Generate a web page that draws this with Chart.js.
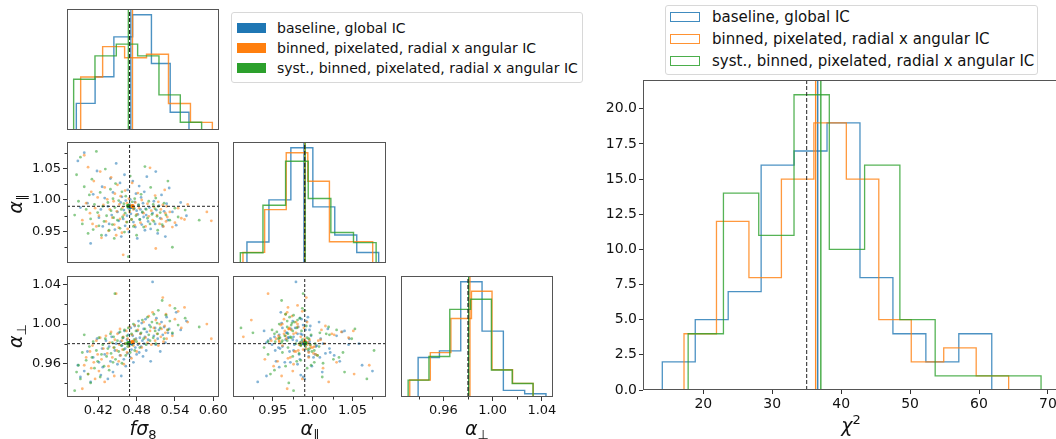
<!DOCTYPE html>
<html>
<head>
<meta charset="utf-8">
<script src="https://cdn.jsdelivr.net/npm/chart.js@4.4.0/dist/chart.umd.min.js"></script>
<style>
  body { margin: 0; background: #fff; overflow: hidden; font-family: "DejaVu Sans", sans-serif; }
  #fig { position: relative; width: 1056px; height: 439px; overflow: hidden; }
  #fig canvas { position: absolute; }
  .lab { position: absolute; font-size: 19px; color: #111; white-space: nowrap; transform: translate(-50%, -50%); }
  .lab i { font-style: italic; }
  .lab sub { font-size: 13px; vertical-align: -4px; }
  .rot { transform: translate(-50%, -50%) rotate(-90deg); }
  .legend { position: absolute; background: #fff; border: 1px solid #d8d8d8; border-radius: 3px; }
  .row { position: absolute; white-space: nowrap; color: #111; }
  .sw { position: absolute; box-sizing: border-box; }
</style>
</head>
<body>
<div id="fig"></div>
<script>
// series
const names = ['baseline, global IC', 'binned, pixelated, radial x angular IC', 'syst., binned, pixelated, radial x angular IC'];
const colors = ['#1f77b4', '#ff7f0e', '#2ca02c'];

// fiducial (dashed) and mean (solid) values
const truthFs8 = 0.469, truthApar = 0.99, truthAperp = 0.98, truthChi2 = 35.0;
const meanFs8 = [0.471, 0.4736, 0.467];
const meanApar = [0.989, 0.990, 0.9906];
const meanAperp = [0.9805, 0.9816, 0.9805];
const meanChi2 = [36.6, 36.3, 37.05];

// per-realisation best fits
const fs8Blue = [.388,.392,.398,.403,.408,.412,.418,.421,.424,.426,.427,.430,.432,.435,.437,.439,.441,.443,.446,.448,.450,.452,.454,.455,.456,.457,.459,.460,.461,.462,.463,.465,.466,.467,.468,.469,.470,.471,.472,.474,.475,.476,.477,.478,.479,.480,.481,.482,.483,.484,.485,.486,.487,.488,.489,.490,.491,.492,.493,.494,.495,.496,.498,.500,.502,.505,.507,.509,.510,.511,.513,.515,.517,.519,.521,.523,.525,.527,.529,.531,.536,.542,.549,.558];
const aperpBlue = [.958,.946,.952,.972,.941,.966,.985,.961,.948,.975,.956,.969,.983,.944,.977,.962,.987,.951,.973,.980,.959,.991,.968,.982,.947,.978,.986,.964,.993,.975,.957,.984,.970,.989,.979,.981,.966,.996,.974,.988,.961,.982,.998,.976,.985,.969,.993,.979,1.003,.971,.986,.990,.977,1.001,.983,.967,.995,.980,.987,1.005,.973,.992,.984,.999,.962,1.043,.988,.996,.979,1.006,.985,.994,.972,1.002,.989,.997,.981,1.007,.991,.995,.990,1.012,.994,1.003];
const aparBlue = [1.062,.988,1.075,.995,.931,1.009,1.046,.972,.985,1.021,.958,1.003,.944,.990,.962,1.034,.976,1.012,.953,1.058,.981,.967,1.027,.996,.942,1.005,.970,.984,1.040,.959,.999,.975,1.016,.987,.949,.993,1.001,.978,.990,1.030,.965,.986,.997,.957,1.010,.983,.939,.977,.992,1.022,.969,.985,1.004,.961,.980,.995,.973,1.013,.952,.986,.976,1.037,.966,.988,.954,.979,.998,.962,1.045,.984,.947,.991,.971,1.008,.958,.982,.942,.994,.968,1.019,.981,.960,.996,.975];

const fs8Orange = [.395,.398,.401,.404,.407,.409,.411,.413,.415,.417,.419,.421,.423,.425,.428,.430,.432,.434,.436,.438,.440,.442,.444,.445,.446,.448,.449,.450,.452,.453,.454,.455,.457,.458,.459,.460,.462,.464,.465,.466,.468,.469,.470,.472,.473,.475,.477,.478,.480,.482,.484,.486,.488,.491,.494,.497,.499,.501,.503,.505,.507,.509,.510,.512,.514,.516,.518,.519,.521,.522,.524,.525,.526,.527,.528,.532,.536,.540,.545,.550,.555,.560,.590,.597];
const aperpOrange = [.934,.958,.966,.949,.972,.955,.978,.961,.944,.983,.969,.952,.986,.964,.975,.941,.988,.970,.957,.981,.992,.966,.976,.947,.984,1.031,.973,.990,.962,.979,.995,.968,.983,.974,.987,.959,.980,.993,.971,.985,.977,.997,.982,.965,.989,.978,.999,.984,.972,.994,.980,.990,.976,1.002,.986,.981,1.008,.993,.979,1.012,.996,.983,1.004,.990,.978,1.000,.987,.995,1.027,.982,.998,.991,1.010,.985,.994,1.019,.988,1.005,1.013,.996,1.017,1.002,1.000,.985];
const aparOrange = [.968,1.071,.995,1.052,.979,1.013,.962,1.030,.987,.958,1.004,.975,1.045,.940,.992,1.020,.966,1.001,.951,.985,1.036,.972,.998,.961,1.010,.944,.982,1.024,.956,.993,.970,1.006,.948,.988,.913,.976,1.015,.965,.995,.954,1.002,.981,.991,.969,1.027,.985,.960,.996,.977,1.011,.987,.964,1.000,.979,.958,.994,.974,1.051,.983,.968,.989,1.007,.923,.976,.997,.962,.985,.970,.992,.958,1.016,.979,.966,.990,.973,.981,.957,.964,.987,.971,.969,.993,.981,.967];

const fs8Green = [.383,.386,.389,.392,.395,.398,.401,.404,.406,.408,.410,.412,.414,.417,.419,.421,.423,.425,.427,.429,.431,.433,.435,.437,.439,.440,.442,.443,.444,.445,.446,.447,.450,.452,.454,.456,.457,.458,.460,.461,.462,.463,.465,.466,.467,.469,.470,.472,.473,.475,.476,.477,.479,.480,.483,.485,.487,.489,.491,.493,.495,.497,.499,.501,.502,.504,.506,.507,.509,.510,.512,.513,.514,.517,.520,.523,.526,.529,.532,.536,.540,.545,.556,.578];
const aperpGreen = [.932,.951,.958,.944,.971,.989,.963,.949,.977,.940,.966,.982,.955,.973,.962,.986,.946,.969,.979,.957,.985,.967,.975,.953,.990,.970,.981,.961,.987,.976,1.031,.964,.983,.972,.992,.978,.960,.986,.974,.994,.980,.968,.988,.977,.996,.981,.971,.990,.979,1.000,.984,.973,.993,.982,.998,.976,.991,1.004,.985,.995,.979,1.007,.989,.983,.997,1.002,.986,1.010,.993,.980,1.001,.990,1.014,.996,1.024,.985,1.009,.994,1.003,.991,1.016,.999,1.006,.997];
const aparGreen = [.976,1.040,.998,1.068,.962,1.021,.985,.947,1.008,.970,1.033,.953,.993,1.077,.980,.959,1.012,.944,.990,.966,1.049,.975,.996,.952,1.017,.983,.961,1.002,.972,.939,.988,1.026,.968,.999,.955,.985,1.013,.973,.994,.949,.979,1.006,.965,.991,.910,.984,1.038,.969,.997,.958,.987,1.002,.975,.944,.992,.969,1.009,.981,.957,1.053,.985,.971,.998,.962,1.020,.977,.993,.966,.986,1.003,.974,.952,.990,.980,.961,.995,.976,1.030,.968,.925,.987,.973,.984,.968];

// 1D histograms (bin edges + counts, 84 realisations)
const nReal = 84;
const fs8Edges = [[0.3856,0.4150,0.4444,0.4738,0.5032,0.5326,0.5620],[0.3924,0.4268,0.4612,0.4955,0.5299,0.5643,0.5986],[0.3814,0.4148,0.4482,0.4816,0.5150,0.5484,0.5818]];
const fs8Counts = [[6,12,21,26,15,4],[14,22,19,20,7,2],[13,19,22,19,9,2]];
const aparEdges = [[0.9175,0.9451,0.9726,1.0002,1.0277,1.0553,1.0828],[0.9125,0.9397,0.9668,0.9939,1.0210,1.0482,1.0753],[0.9092,0.9376,0.9660,0.9944,1.0228,1.0512,1.0796]];
const aparCounts = [[6,18,33,16,8,3],[3,15,31,23,6,6],[3,17,30,19,9,6]];
const aperpEdges = [[0.9395,0.9568,0.9741,0.9914,1.0087,1.0260,1.0433],[0.9327,0.9494,0.9661,0.9828,0.9995,1.0162,1.0329],[0.9314,0.9483,0.9652,0.9821,0.9990,1.0159,1.0328]];
const aperpCounts = [[12,14,35,20,2,1],[5,13,23,31,8,4],[5,12,26,29,8,4]];
const chiEdges = [[14.05,18.83,23.61,28.39,33.17,37.95,42.73,47.51,52.29,57.07,61.85],[17.2,21.91,26.62,31.33,36.04,40.75,45.46,50.17,54.88,59.59,64.3],[17.8,22.92,28.04,33.16,38.28,43.4,48.52,53.64,58.76,63.88,69.0]];
const chiCounts = [[2,5,7,16,17,19,8,4,2,4],[4,12,8,15,19,15,5,2,3,1],[4,14,11,21,10,16,5,1,1,1]];

// axis ranges and ticks
const fs8Range = [0.371, 0.609], aparRange = [0.900, 1.092], aperpRange = [0.9256, 1.049];
const fs8Ticks = [0.42, 0.48, 0.54, 0.60];
const aparTicks = [0.95, 1.00, 1.05];
const aperpTicks = [0.96, 1.00, 1.04];
const aparMinor = [0.925, 0.975, 1.025, 1.075];
const aperpMinor = [0.94, 0.98, 1.02];
const chiXTicks = [20, 30, 40, 50, 60, 70];
const chiYTicks = [0, 2.5, 5, 7.5, 10, 12.5, 15, 17.5, 20];

const fs8All = [fs8Blue, fs8Orange, fs8Green];
const aparAll = [aparBlue, aparOrange, aparGreen];
const aperpAll = [aperpBlue, aperpOrange, aperpGreen];

const fig = document.getElementById('fig');

function rgba(hex, a) {
  const n = parseInt(hex.slice(1), 16);
  return `rgba(${n >> 16},${(n >> 8) & 255},${n & 255},${a})`;
}

function outline(edges, counts, norm) {
  const pts = [{x: edges[0], y: 0}];
  counts.forEach((c, i) => {
    const h = norm ? c / (nReal * (edges[i + 1] - edges[i])) : c;
    pts.push({x: edges[i], y: h}, {x: edges[i + 1], y: h});
  });
  pts.push({x: edges[edges.length - 1], y: 0});
  return pts;
}

function lineSet(pts, color, width, dash) {
  return {data: pts, showLine: true, borderColor: color, borderWidth: width, borderDash: dash || [],
          pointRadius: 0, fill: false, tension: 0};
}

// axes box + minor ticks
const frame = {
  id: 'frame',
  afterDraw(chart, args, opts) {
    const a = chart.chartArea, ctx = chart.ctx;
    ctx.save();
    ctx.strokeStyle = '#555';
    ctx.lineWidth = 1;
    ctx.strokeRect(Math.round(a.left) + 0.5, Math.round(a.top) + 0.5, Math.round(a.right - a.left) - 1, Math.round(a.bottom - a.top) - 1);
    ctx.strokeStyle = '#333';
    ctx.beginPath();
    (opts.x || []).forEach(v => {
      const px = Math.round(chart.scales.x.getPixelForValue(v)) + 0.5;
      ctx.moveTo(px, a.bottom); ctx.lineTo(px, a.bottom + 2.5);
    });
    (opts.y || []).forEach(v => {
      const py = Math.round(chart.scales.y.getPixelForValue(v)) + 0.5;
      ctx.moveTo(a.left, py); ctx.lineTo(a.left - 2.5, py);
    });
    ctx.stroke();
    ctx.restore();
  }
};

function axis(range, ticks, labels, digits, dir, fs) {
  return {
    type: 'linear', min: range[0], max: range[1],
    border: {display: false},
    grid: {display: ticks.length > 0, drawOnChartArea: false, drawTicks: true, tickLength: 4, tickColor: '#333', tickWidth: 1},
    ticks: {display: labels, padding: 2, color: '#111', autoSkip: false, maxRotation: 0, minRotation: 0,
            font: {family: 'DejaVu Sans', size: fs},
            callback: v => v.toFixed(digits)},
    afterBuildTicks: s => { s.ticks = ticks.map(v => ({value: v})); }
  };
}

function panel(box, datasets, xa, ya, minor) {
  const L = 70, B = 32, T = 2, R = 22;
  const c = document.createElement('canvas');
  c.width = box.w + L + R;
  c.height = box.h + T + B;
  c.style.left = (box.x - L) + 'px';
  c.style.top = (box.y - T) + 'px';
  fig.appendChild(c);
  const fix = (s, isX) => {
    if (isX) s.height = B; else s.width = L;
    s.paddingTop = s.paddingBottom = s.paddingLeft = s.paddingRight = 0;
  };
  xa.afterFit = s => fix(s, true);
  ya.afterFit = s => fix(s, false);
  return new Chart(c, {
    type: 'scatter',
    data: {datasets},
    options: {
      responsive: false, animation: false, devicePixelRatio: 1,
      layout: {padding: {top: T, right: R, left: 0, bottom: 0}, autoPadding: false},
      plugins: {legend: {display: false}, tooltip: {enabled: false}, frame: minor || {}},
      scales: {x: xa, y: ya}
    },
    plugins: [frame]
  });
}

function histPanel(box, edgesAll, countsAll, means, truth, range, ticks, labels, minor) {
  let top = 0;
  const outs = edgesAll.map((e, k) => outline(e, countsAll[k], true));
  outs.forEach(o => o.forEach(p => { top = Math.max(top, p.y); }));
  top *= 1.05;
  const ds = [];
  ds.push(lineSet([{x: truth, y: 0}, {x: truth, y: top}], '#222', 1.2, [4, 2]));
  for (let k = 2; k >= 0; k--) {
    ds.push(lineSet([{x: means[k], y: 0}, {x: means[k], y: top}], rgba(colors[k], 0.85), 1.3));
    ds.push(lineSet(outs[k], rgba(colors[k], 0.8), 1.4));
  }
  panel(box, ds, axis(range, ticks, labels, 2, 'x', 13), axis([0, top], [], false, 0, 'y', 13), minor);
}

function scatterPanel(box, xs, ys, mx, my, tx, ty, xr, yr, xt, yt, xl, yl, minor) {
  const ds = [];
  ds.push(lineSet([{x: tx, y: yr[0]}, {x: tx, y: yr[1]}], '#222', 1, [3, 2]));
  ds.push(lineSet([{x: xr[0], y: ty}, {x: xr[1], y: ty}], '#222', 1, [3, 2]));
  for (let k = 2; k >= 0; k--) {
    ds.push({data: [{x: mx[k], y: my[k]}], pointRadius: 2.2, pointBorderWidth: 0, backgroundColor: colors[k]});
  }
  for (let k = 2; k >= 0; k--) {
    ds.push({data: xs[k].map((v, i) => ({x: v, y: ys[k][i]})), pointRadius: 1.4, pointBorderWidth: 0,
             backgroundColor: rgba(colors[k], 0.55)});
  }
  panel(box, ds, axis(xr, xt, xl, 2, 'x', 13), axis(yr, yt, yl, 2, 'y', 13), minor);
}

// corner plot
const col = [67, 233, 401], row = [9, 142, 276], pw = 153, ph = 121;
histPanel({x: col[0], y: row[0], w: pw - 1, h: ph}, fs8Edges, fs8Counts, meanFs8, truthFs8, fs8Range, [], false);
scatterPanel({x: col[0], y: row[1], w: pw - 1, h: ph}, fs8All, aparAll, meanFs8, meanApar, truthFs8, truthApar,
             fs8Range, aparRange, [], aparTicks, false, true, {y: aparMinor});
histPanel({x: col[1], y: row[1], w: pw, h: ph}, aparEdges, aparCounts, meanApar, truthApar, aparRange, [], false);
scatterPanel({x: col[0], y: row[2], w: pw - 1, h: ph}, fs8All, aperpAll, meanFs8, meanAperp, truthFs8, truthAperp,
             fs8Range, aperpRange, fs8Ticks, aperpTicks, true, true, {y: aperpMinor});
scatterPanel({x: col[1], y: row[2], w: pw, h: ph}, aparAll, aperpAll, meanApar, meanAperp, truthApar, truthAperp,
             aparRange, aperpRange, aparTicks, [], true, false, {x: aparMinor});
histPanel({x: col[2], y: row[2], w: pw - 1, h: ph}, aperpEdges, aperpCounts, meanAperp, truthAperp, aperpRange, aperpTicks, true, {x: aperpMinor});

// chi2 histogram
(function () {
  const top = 22.05;
  const ds = [];
  ds.push(lineSet([{x: truthChi2, y: 0}, {x: truthChi2, y: top}], '#222', 1, [4, 2]));
  for (let k = 2; k >= 0; k--) {
    ds.push(lineSet([{x: meanChi2[k], y: 0}, {x: meanChi2[k], y: top}], rgba(colors[k], 0.9), 1.4));
    ds.push(lineSet(outline(chiEdges[k], chiCounts[k], false), rgba(colors[k], 0.8), 1.3));
  }
  panel({x: 643, y: 80, w: 417, h: 310}, ds,
        axis([11.25, 71.75], chiXTicks, true, 0, 'x', 14),
        axis([0, top], chiYTicks, true, 1, 'y', 14));
})();

// axis labels
function label(html, x, y, rot) {
  const d = document.createElement('div');
  d.className = 'lab' + (rot ? ' rot' : '');
  d.innerHTML = html;
  d.style.left = x + 'px';
  d.style.top = y + 'px';
  fig.appendChild(d);
}
label('<i>fσ</i><sub>8</sub>', 143, 429);
label('<i>α</i><sub>∥</sub>', 310, 429);
label('<i>α</i><sub>⊥</sub>', 477, 429);
label('<i>χ</i><sup style="font-size:13px">2</sup>', 851, 424);
label('<i>α</i><sub>∥</sub>', 16, 204, true);
label('<i>α</i><sub>⊥</sub>', 16, 336, true);

// legends
function legend(box, rows, sw, textX, fs, filled) {
  const lg = document.createElement('div');
  lg.className = 'legend';
  Object.assign(lg.style, {left: box.x + 'px', top: box.y + 'px', width: box.w + 'px', height: box.h + 'px'});
  fig.appendChild(lg);
  names.forEach((n, k) => {
    const s = document.createElement('div');
    s.className = 'sw';
    Object.assign(s.style, {left: (sw[0] - box.x - 1) + 'px', top: (rows[k] - 5 - box.y - 1) + 'px', width: sw[1] + 'px', height: '10px'});
    if (filled) s.style.background = colors[k];
    else s.style.border = '1.5px solid ' + rgba(colors[k], 0.85);
    lg.appendChild(s);
    const t = document.createElement('div');
    t.className = 'row';
    t.textContent = n;
    Object.assign(t.style, {left: (textX - box.x - 1) + 'px', top: (rows[k] - box.y - 1 - fs * 0.6) + 'px', fontSize: fs + 'px'});
    lg.appendChild(t);
  });
}
legend({x: 231, y: 12, w: 350, h: 69}, [28, 48, 68], [237, 29], 277, 14, true);
legend({x: 665, y: 5, w: 371, h: 68}, [17, 39, 61], [670, 30], 712, 15, false);
</script>
</body>
</html>
